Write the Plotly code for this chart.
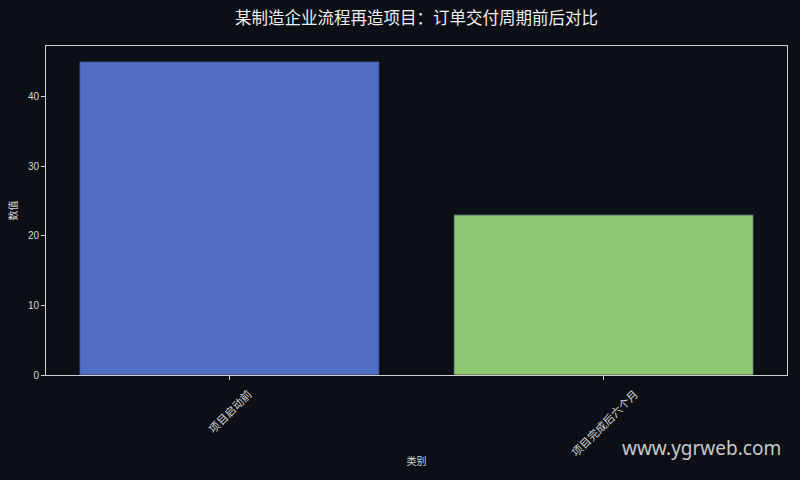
import plotly.graph_objects as go

categories = ["项目启动前", "项目完成后六个月"]
values = [45, 23]
bar_colors = ["#5470c6", "#91cc75"]

BG = "#0c0f15"
FG = "#d8d8d8"
FONT = "Liberation Sans, Noto Sans CJK SC, sans-serif"
CJK = "Noto Sans CJK SC, sans-serif"

fig = go.Figure(
    go.Bar(
        x=categories,
        y=values,
        width=0.8,
        marker=dict(color=bar_colors, line=dict(color="#2a3550", width=0.8)),
        opacity=0.98,
        showlegend=False,
        hoverinfo="x+y",
    )
)

axis_common = dict(
    showline=True,
    linecolor="#cfcfcf",
    linewidth=1,
    mirror=True,
    showgrid=False,
    zeroline=False,
    ticks="outside",
    ticklen=4,
    tickcolor="#cfcfcf",
    tickfont=dict(family=FONT, size=10, color=FG),
)

# rotated category labels centred under their ticks (matplotlib style)
label_notes = [
    dict(
        text=c,
        x=c,
        xref="x",
        y=0,
        yref="paper",
        xanchor="center",
        yanchor="top",
        yshift=-8,
        textangle=-45,
        showarrow=False,
        font=dict(family=CJK, size=11, color=FG),
    )
    for c in categories
]

fig.update_layout(
    width=800,
    height=480,
    paper_bgcolor=BG,
    plot_bgcolor=BG,
    margin=dict(l=46, r=13, t=46, b=105),
    title=dict(
        text="某制造企业流程再造项目：订单交付周期前后对比",
        xref="paper",
        x=0.5,
        xanchor="center",
        y=0.963,
        yanchor="middle",
        font=dict(family=CJK, size=16.5, color="#eeeeee"),
    ),
    xaxis=dict(
        axis_common,
        range=[-0.49, 1.49],
        showticklabels=False,
        title=dict(text="类别", font=dict(family=CJK, size=10, color=FG), standoff=78),
    ),
    yaxis=dict(
        axis_common,
        range=[0, 47.25],
        dtick=10,
        title=dict(text="数值", font=dict(family=CJK, size=10, color=FG), standoff=8),
    ),
    annotations=label_notes
    + [
        dict(
            text="www.ygrweb.com",
            xref="paper",
            yref="paper",
            x=0.995,
            y=-0.175,
            xanchor="right",
            yanchor="top",
            showarrow=False,
            font=dict(family="Noto Sans, sans-serif", size=19, color="rgba(235,235,235,0.85)"),
        )
    ],
)

# page body has a default margin; drop it so the figure fills the window
fig.write_html(
    "out.html",
    config={"displayModeBar": False},
    post_script="document.body.style.margin='0';document.body.style.background='#0c0f15';",
)
